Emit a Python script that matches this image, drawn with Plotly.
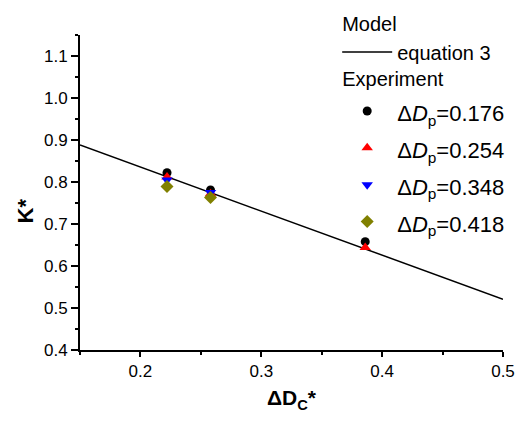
import plotly.graph_objects as go

# Model line (equation 3)
model_x = [0.15, 0.5]
model_y = [0.888, 0.521]

# Experimental data
dp_labels = ["0.176", "0.254", "0.348", "0.418"]
exp_x = [
    [0.222, 0.258, 0.386],
    [0.222, 0.258, 0.386],
    [0.222, 0.258],
    [0.222, 0.258],
]
exp_y = [
    [0.822, 0.781, 0.658],
    [0.812, 0.772, 0.644],
    [0.805, 0.775],
    [0.789, 0.763],
]
colors = ["black", "red", "blue", "#808000"]
symbols = ["circle", "triangle-up", "triangle-down", "diamond"]
sizes = [9, 10, 10, 10]

FONT = "Arial, Liberation Sans, sans-serif"

fig = go.Figure()
fig.add_trace(go.Scatter(
    x=model_x, y=model_y, mode="lines",
    line=dict(color="black", width=1.5),
    name="equation 3", legend="legend", legendgroup="model",
    legendgrouptitle=dict(text="Model", font=dict(size=20, family=FONT, color="black")),
))
for i in range(4):
    fig.add_trace(go.Scatter(
        x=exp_x[i], y=exp_y[i], mode="markers",
        marker=dict(color=colors[i], symbol=symbols[i], size=sizes[i]),
        name='<span style="font-size:22px">Δ<i>D</i><sub>p</sub>=' + dp_labels[i] + "</span>",
        legend="legend2", legendgroup="exp",
        legendgrouptitle=dict(text="Experiment", font=dict(size=20, family=FONT, color="black")),
    ))

fig.update_layout(
    width=521, height=421,
    margin=dict(l=80, r=18, t=35, b=71, autoexpand=False),
    plot_bgcolor="white", paper_bgcolor="white",
    font=dict(family=FONT, color="black", size=17),
    showlegend=True,
    legend=dict(
        x=0.608, y=1.10, xanchor="left", yanchor="top",
        bgcolor="rgba(0,0,0,0)", font=dict(size=20, family=FONT),
        traceorder="grouped", tracegroupgap=0, itemwidth=50, maxheight=1000,
    ),
    legend2=dict(
        x=0.608, y=0.925, xanchor="left", yanchor="top",
        bgcolor="rgba(0,0,0,0)", font=dict(size=26, family=FONT),
        traceorder="grouped", tracegroupgap=0, itemwidth=50, maxheight=1000,
    ),
    xaxis=dict(
        range=[0.15, 0.5], tickvals=[0.2, 0.3, 0.4, 0.5],
        ticktext=["0.2", "0.3", "0.4", "0.5"],
        showgrid=False, zeroline=False, showline=True, linecolor="black", linewidth=2,
        ticks="outside", ticklen=5, tickwidth=1.5, tickcolor="black",
        minor=dict(ticks="outside", ticklen=3, tickwidth=1.5, tickcolor="black", dtick=0.05, tick0=0.15),
        tickfont=dict(size=17),
        title=dict(text="<b>ΔD<sub>C</sub>*</b>", font=dict(size=21), standoff=10),
    ),
    yaxis=dict(
        range=[0.4, 1.15], tickvals=[0.4, 0.5, 0.6, 0.7, 0.8, 0.9, 1.0, 1.1],
        ticktext=["0.4", "0.5", "0.6", "0.7", "0.8", "0.9", "1.0", "1.1"],
        showgrid=False, zeroline=False, showline=True, linecolor="black", linewidth=2,
        ticks="outside", ticklen=7, tickwidth=1.5, tickcolor="black",
        minor=dict(ticks="outside", ticklen=3, tickwidth=1.5, tickcolor="black", dtick=0.05, tick0=0.4),
        tickfont=dict(size=17),
    ),
    annotations=[dict(
        text="<b>K*</b>", font=dict(size=22), textangle=-90,
        xref="paper", yref="paper", x=0, y=0.44, xanchor="center", yanchor="middle",
        xshift=-55, showarrow=False,
    )],
)

fig.write_html("out.html")
